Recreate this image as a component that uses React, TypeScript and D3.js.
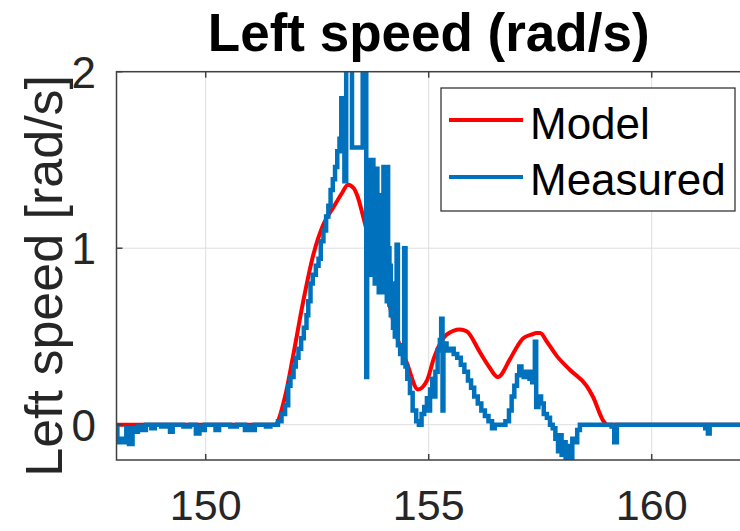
import React from 'react';
import * as d3 from 'd3';

const xTicks = [150, 155, 160];
const yTicks = [0, 1, 2];
const titleText = 'Left speed (rad/s)';
const yLabelText = 'Left speed [rad/s]';
const seriesNames = ['Model', 'Measured'];

const modelT = [148, 151.55, 151.78, 151.96, 152.18, 152.41, 152.63, 152.86, 153.05, 153.19, 153.32, 153.41, 153.53, 153.75, 153.95, 154.13, 154.31, 154.51, 154.76, 154.96, 155.12, 155.4, 155.7, 155.85, 156.15, 156.35, 156.55, 156.82, 157.0, 157.12, 157.3, 157.42, 157.5, 157.65, 157.87, 158.17, 158.54, 158.68, 158.92, 159.0, 162];
const modelV = [0, 0, 0.16, 0.39, 0.69, 0.96, 1.13, 1.23, 1.31, 1.36, 1.34, 1.29, 1.18, 0.97, 0.86, 0.67, 0.48, 0.35, 0.2, 0.25, 0.38, 0.51, 0.54, 0.53, 0.41, 0.33, 0.27, 0.37, 0.45, 0.49, 0.51, 0.52, 0.52, 0.47, 0.39, 0.31, 0.22, 0.16, 0.02, 0, 0];

const measuredT = [
  148.0, 148.02, 148.12, 148.18, 148.22, 148.28, 148.36, 148.42, 148.48, 148.58, 148.66, 148.78, 148.86, 149.0, 149.1, 149.2, 149.26, 149.5, 149.65, 149.78, 149.86, 149.92, 149.98, 150.22, 150.3, 150.55, 150.7, 150.88, 150.96, 151.04, 151.1, 151.35, 151.45,
  151.62, 151.7, 151.78, 151.85, 151.9, 151.97, 152.02, 152.08, 152.14, 152.2, 152.26, 152.3, 152.35, 152.4, 152.47, 152.53, 152.58, 152.64, 152.7, 152.75, 152.8, 152.85, 152.9, 152.95, 153.0, 153.04, 153.08, 153.11, 153.15, 153.28, 153.52, 153.6,
  153.62, 153.64, 153.655, 153.67, 153.685, 153.7, 153.715, 153.73, 153.745, 153.76, 153.775, 153.79, 153.805, 153.82, 153.835, 153.85, 153.865, 153.88, 153.895, 153.91, 153.925, 153.94, 153.955, 153.97, 153.985, 154.0, 154.015, 154.03, 154.045, 154.06, 154.075, 154.09, 154.105, 154.12, 154.135, 154.15, 154.17, 154.2,
  154.24, 154.28, 154.31, 154.36, 154.42, 154.45, 154.48, 154.52, 154.58, 154.64, 154.72, 154.78,
  154.84, 154.9, 154.96, 155.0, 155.03, 155.08, 155.12, 155.15, 155.2, 155.25, 155.28, 155.31, 155.33, 155.4, 155.48, 155.56, 155.64, 155.72, 155.8, 155.88, 155.95, 156.02, 156.1, 156.18, 156.26, 156.34, 156.42, 156.48,
  156.6, 156.72, 156.8, 156.86, 156.92, 156.98, 157.03, 157.08, 157.13, 157.2, 157.26, 157.32, 157.35, 157.38, 157.41, 157.46, 157.52, 157.58, 157.65, 157.72, 157.78, 157.84, 157.9, 157.94, 157.98, 158.03, 158.07, 158.14, 158.18, 158.22, 158.28, 158.33, 158.39,
  159.1, 159.16, 159.22, 161.2, 161.26, 161.3, 162.0
];
const measuredV = [
  -0.02, -0.1, -0.08, -0.1, -0.02, -0.11, -0.02, -0.04, -0.01, -0.03, 0, -0.02, 0, -0.01, 0, -0.04, 0, -0.01, 0, -0.05, -0.01, -0.03, 0, -0.03, 0, -0.01, 0, -0.03, -0.01, -0.03, 0, -0.01, 0,
  0.02, 0.06, 0.11, 0.22, 0.27, 0.33, 0.38, 0.43, 0.49, 0.55, 0.62, 0.7, 0.8, 0.85, 0.9, 0.94, 1.04, 1.1, 1.18, 1.24, 1.33, 1.39, 1.46, 1.55, 1.62, 1.85, 1.55, 1.38, 2.2, 1.57, 2.2, 0.27,
  1.45, 1.0, 1.5, 0.9, 1.42, 0.85, 1.4, 0.9, 1.5, 0.85, 1.35, 0.8, 1.3, 0.95, 1.45, 0.8, 1.3, 0.75, 1.25, 0.8, 1.3, 0.75, 1.2, 0.8, 1.46, 0.8, 1.2, 0.75, 1.1, 0.7, 1.46, 0.72, 1.0, 0.68, 0.9, 0.62, 0.8, 0.55,
  0.5, 1.02, 0.45, 0.4, 0.35, 1.0, 0.33, 0.26, 0.18, 0.08, 0.02, 0.0,
  0.06, 0.1, 0.15, 0.08, 0.2, 0.26, 0.16, 0.3, 0.42, 0.48, 0.6, 0.08, 0.46, 0.42, 0.43, 0.4, 0.38, 0.34, 0.3, 0.25, 0.21, 0.16, 0.12, 0.08, 0.05, 0.02, -0.02, 0.0,
  0.0, 0.02, 0.08, 0.16, 0.22, 0.28, 0.33, 0.3, 0.27, 0.3, 0.26, 0.24, 0.3, 0.47, 0.1, 0.16, 0.12, 0.06, 0.04, 0.0, -0.02, -0.08, -0.15, -0.06, -0.17, -0.1, -0.21, -0.12, -0.19, -0.08, -0.1, -0.03, 0.0,
  -0.01, -0.1, 0, -0.02, -0.05, 0, 0
];

const FONT = '"Liberation Sans", Arial, Helvetica, sans-serif';

export default function App() {
  const W = 740, H = 531;
  const L = 116.5, R = 740.9, T = 71.7, B = 460;
  const x = d3.scaleLinear().domain([148, 162]).range([L, R]);
  const y = d3.scaleLinear().domain([-0.2, 2]).range([B, T]);

  const model = modelT.map((t, i) => [t, modelV[i]] as [number, number]);
  const measured = measuredT.map((t, i) => [t, measuredV[i]] as [number, number]);

  const modelLine = d3.line<[number, number]>().x(d => x(d[0])).y(d => y(d[1])).curve(d3.curveMonotoneX);
  const measLine = d3.line<[number, number]>().x(d => x(d[0])).y(d => y(d[1])).curve(d3.curveStepAfter);

  const axisColor = '#404040';
  const gridColor = '#dedede';
  const tickLen = 6;

  return (
    <svg width={W} height={H} style={{ position: 'absolute', left: 0, top: 0, background: '#fff' }} fontFamily={FONT}>
      <defs>
        <clipPath id="plotClip">
          <rect x={L} y={T} width={R - L} height={B - T} />
        </clipPath>
      </defs>
      <rect x={0} y={0} width={W} height={H} fill="#fff" />
      {xTicks.map(t => (
        <line key={'gx' + t} x1={x(t)} x2={x(t)} y1={T} y2={B} stroke={gridColor} strokeWidth={1} />
      ))}
      {yTicks.map(t => (
        <line key={'gy' + t} x1={L} x2={R} y1={y(t)} y2={y(t)} stroke={gridColor} strokeWidth={1} />
      ))}
      <g clipPath="url(#plotClip)">
        <path d={modelLine(model) || ''} fill="none" stroke="#FF0000" strokeWidth={4} strokeLinejoin="round" />
        <path d={measLine(measured) || ''} fill="none" stroke="#0072BD" strokeWidth={4.5} strokeLinejoin="miter" />
      </g>
      <rect x={L} y={T} width={R - L} height={B - T} fill="none" stroke={axisColor} strokeWidth={1.5} />
      {xTicks.map(t => (
        <g key={'tx' + t}>
          <line x1={x(t)} x2={x(t)} y1={B} y2={B - tickLen} stroke={axisColor} strokeWidth={1.5} />
          <line x1={x(t)} x2={x(t)} y1={T} y2={T + tickLen} stroke={axisColor} strokeWidth={1.5} />
          <text x={x(t)} y={520} textAnchor="middle" fontSize={43} fill="#262626">{t}</text>
        </g>
      ))}
      {yTicks.map(t => (
        <g key={'ty' + t}>
          <line x1={L} x2={L + tickLen} y1={y(t)} y2={y(t)} stroke={axisColor} strokeWidth={1.5} />
          <text x={96} y={y(t)} dy="0.36em" textAnchor="end" fontSize={44} fill="#262626">{t}</text>
        </g>
      ))}
      <text x={(L + R) / 2} y={51} textAnchor="middle" fontSize={53} fontWeight="bold" fill="#000">{titleText}</text>
      <text transform={`translate(62, ${(T + B) / 2 + 10}) rotate(-90)`} textAnchor="middle" fontSize={52} fill="#262626">{yLabelText}</text>
      <rect x={441} y={88} width={294} height={123} fill="#fff" stroke="#262626" strokeWidth={1.2} />
      <line x1={449} x2={523} y1={120} y2={120} stroke="#FF0000" strokeWidth={4} />
      <line x1={449} x2={523} y1={177} y2={177} stroke="#0072BD" strokeWidth={4} />
      <text x={530} y={139} fontSize={44} fill="#000">{seriesNames[0]}</text>
      <text x={530} y={195} fontSize={44} fill="#000">{seriesNames[1]}</text>
    </svg>
  );
}
